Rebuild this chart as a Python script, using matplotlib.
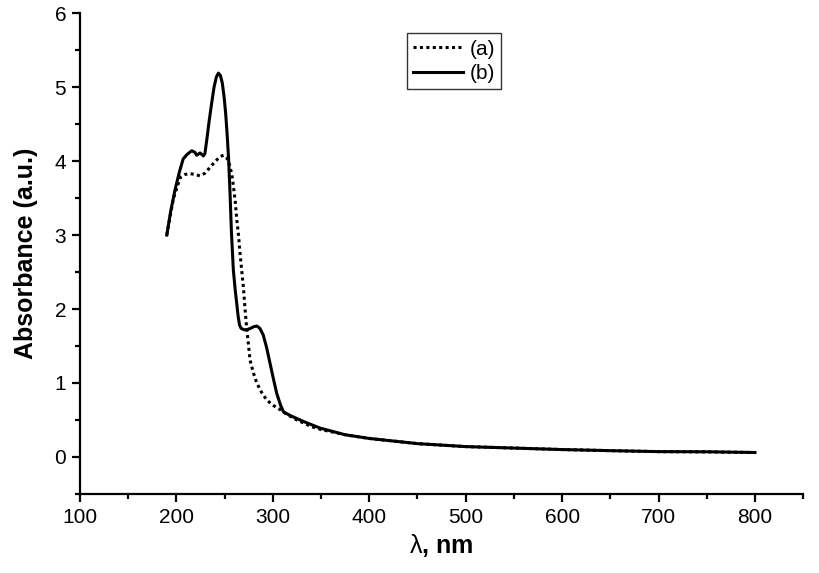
import matplotlib
matplotlib.use("Agg")
import matplotlib.pyplot as plt
from matplotlib.ticker import MultipleLocator

plt.rcParams['font.family'] = ['Liberation Sans', 'DejaVu Sans']
plt.rcParams['mathtext.fontset'] = 'custom'
plt.rcParams['mathtext.sf'] = 'Liberation Sans'
plt.rcParams['mathtext.rm'] = 'Liberation Sans'

# wavelength (nm) and absorbance for curve (a) dotted
wl_a = [190, 192, 197, 204, 209, 214, 219, 224.5, 230, 235, 240, 245, 249, 252, 255,
        257.3, 259, 261, 262.5, 264.2, 266, 268, 269.4, 271, 273, 275, 276.3, 280, 283.3, 288,
        293.6, 300, 307.5, 315, 325, 340, 350, 375, 400, 450, 500, 550, 600, 650, 700, 750, 800]
abs_a = [3.00, 3.15, 3.50, 3.78, 3.82, 3.83, 3.82, 3.80, 3.84, 3.92, 3.99, 4.06, 4.08, 4.05, 3.95,
         3.83, 3.67, 3.45, 3.22, 3.02, 2.75, 2.48, 2.30, 2.02, 1.72, 1.48, 1.31, 1.13, 1.00, 0.88,
         0.77, 0.70, 0.64, 0.57, 0.50, 0.41, 0.37, 0.30, 0.25, 0.18, 0.14, 0.12, 0.10, 0.085, 0.072, 0.068, 0.06]

# curve (b) solid
wl_b = [190, 194, 198.5, 203, 207, 211, 215.8, 219, 221, 224.5, 228, 229.5, 231.4, 234, 236.5,
        239, 241.5, 243.5, 245.5, 247.5, 249.5, 251, 252.5, 254, 255.6, 257, 259, 261, 262.5, 264,
        265.5, 267, 270, 273, 277, 280, 283.3, 286.5, 290, 293.5, 297, 300.5, 304, 308, 311,
        318, 331.7, 349, 375, 400, 450, 500, 550, 600, 650, 700, 750, 800]
abs_b = [3.00, 3.32, 3.61, 3.85, 4.03, 4.09, 4.14, 4.12, 4.08, 4.11, 4.07, 4.10, 4.28, 4.55, 4.78,
         5.00, 5.14, 5.19, 5.16, 5.06, 4.86, 4.65, 4.38, 4.05, 3.56, 3.05, 2.53, 2.25, 2.08, 1.90,
         1.78, 1.74, 1.72, 1.72, 1.74, 1.76, 1.77, 1.74, 1.65, 1.48, 1.27, 1.06, 0.86, 0.70, 0.61,
         0.56, 0.48, 0.39, 0.30, 0.25, 0.18, 0.14, 0.12, 0.10, 0.085, 0.072, 0.07, 0.06]

x_ticks = [100, 200, 300, 400, 500, 600, 700, 800]
y_ticks = [0, 1, 2, 3, 4, 5, 6]

fig = plt.figure(figsize=(8.19, 5.73), dpi=100)
ax = fig.add_axes([0.0977, 0.138, 0.883, 0.839])

ax.plot(wl_a, abs_a, color='black', linestyle=(0, (1, 1.1)), linewidth=2.2, label='(a)')
ax.plot(wl_b, abs_b, color='black', linestyle='-', linewidth=2.2, label='(b)',
        solid_joinstyle='round')

ax.set_xlim(100, 850)
ax.set_ylim(-0.5, 6)
ax.set_xticks(x_ticks)
ax.set_yticks(y_ticks)
ax.xaxis.set_minor_locator(MultipleLocator(50))
ax.yaxis.set_minor_locator(MultipleLocator(0.5))

for s in ['top', 'right']:
    ax.spines[s].set_visible(False)
for s in ['left', 'bottom']:
    ax.spines[s].set_linewidth(1.6)

ax.tick_params(which='major', direction='out', length=6, width=1.6, labelsize=15, pad=4)
ax.tick_params(which='minor', direction='out', length=3.5, width=1.6)

ax.set_xlabel(r'$\mathsf{\lambda}$, nm', fontsize=18, fontweight='bold', labelpad=4)
ax.set_ylabel('Absorbance (a.u.)', fontsize=18, fontweight='bold', labelpad=12)

leg = ax.legend(loc='upper left', bbox_to_anchor=(0.452, 0.958), fontsize=15,
                frameon=True, fancybox=False, edgecolor='black', handlelength=2.4,
                borderpad=0.3, labelspacing=0.25, handletextpad=0.3, borderaxespad=0)
leg.get_frame().set_linewidth(1.0)

fig.savefig('out.png', dpi=100)
